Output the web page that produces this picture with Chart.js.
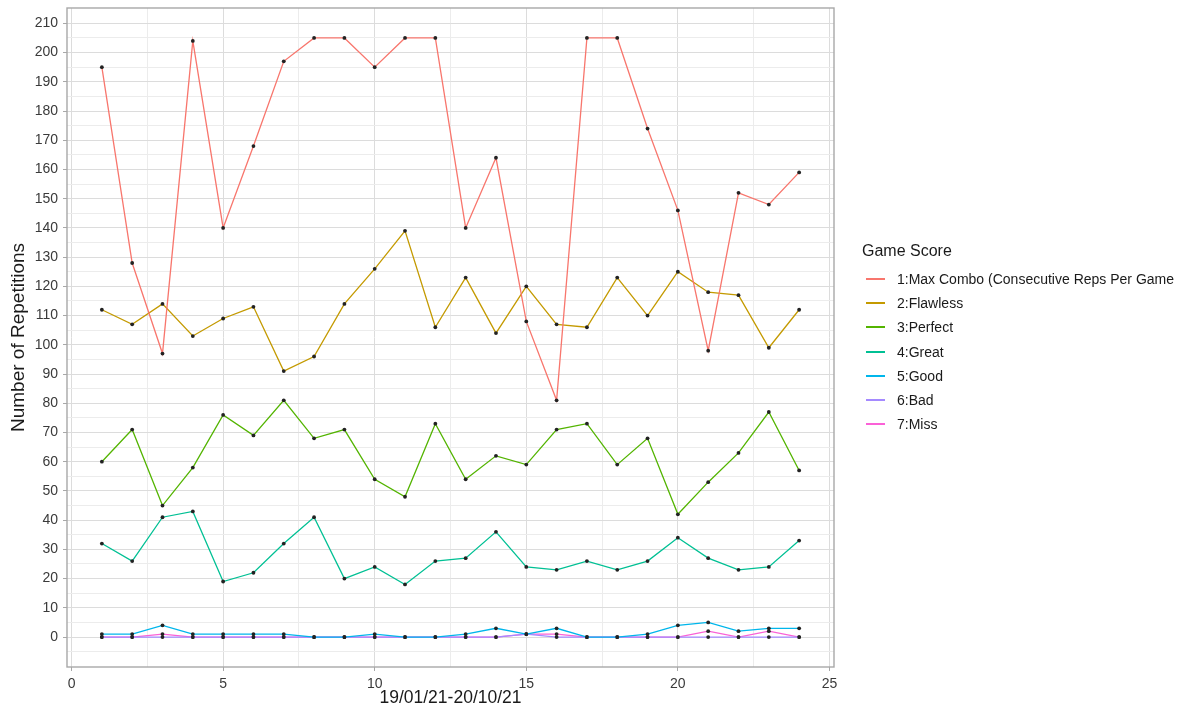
<!DOCTYPE html>
<html>
<head>
<meta charset="utf-8">
<script src="https://cdn.jsdelivr.net/npm/chart.js@4"></script>
<style>
  html, body { margin: 0; padding: 0; background: #ffffff; }
  #wrap { position: relative; width: 1198px; height: 716px; font-family: "Liberation Sans", Arial, sans-serif; }
  #chart { position: absolute; left: 0; top: 0; }
  #legend { position: absolute; left: 862px; top: 240px; color: #1a1a1a; }
  #legend .title { font-size: 16px; height: 22px; line-height: 22px; margin-bottom: 5px; }
  #legend .item { height: 24.2px; display: flex; align-items: center; font-size: 14px; }
  #legend .key { width: 19px; height: 2px; margin-left: 4px; margin-right: 12px; }
</style>
</head>
<body>
<div id="wrap">
  <canvas id="chart" width="1198" height="716"></canvas>
  <div id="legend"></div>
</div>
<script>
// Games played (index 1..24) over the period 19/01/21-20/10/21
const games = [1, 2, 3, 4, 5, 6, 7, 8, 9, 10, 11, 12, 13, 14, 15, 16, 17, 18, 19, 20, 21, 22, 23, 24];

const seriesNames = [
  "1:Max Combo (Consecutive Reps Per Game",
  "2:Flawless",
  "3:Perfect",
  "4:Great",
  "5:Good",
  "6:Bad",
  "7:Miss"
];
const seriesColors = ["#F8766D", "#C49A00", "#53B400", "#00C094", "#00B6EB", "#A58AFF", "#FB61D7"];

const maxCombo = [195, 128, 97, 204, 140, 168, 197, 205, 205, 195, 205, 205, 140, 164, 108, 81, 205, 205, 174, 146, 98, 152, 148, 159];
const flawless = [112, 107, 114, 103, 109, 113, 91, 96, 114, 126, 139, 106, 123, 104, 120, 107, 106, 123, 110, 125, 118, 117, 99, 112];
const perfect  = [60, 71, 45, 58, 76, 69, 81, 68, 71, 54, 48, 73, 54, 62, 59, 71, 73, 59, 68, 42, 53, 63, 77, 57];
const great    = [32, 26, 41, 43, 19, 22, 32, 41, 20, 24, 18, 26, 27, 36, 24, 23, 26, 23, 26, 34, 27, 23, 24, 33];
const good     = [1, 1, 4, 1, 1, 1, 1, 0, 0, 1, 0, 0, 1, 3, 1, 3, 0, 0, 1, 4, 5, 2, 3, 3];
const bad      = [0, 0, 0, 0, 0, 0, 0, 0, 0, 0, 0, 0, 0, 0, 1, 0, 0, 0, 0, 0, 0, 0, 0, 0];
const miss     = [0, 0, 1, 0, 0, 0, 0, 0, 0, 0, 0, 0, 0, 0, 1, 1, 0, 0, 0, 0, 2, 0, 2, 0];

const seriesValues = [maxCombo, flawless, perfect, great, good, bad, miss];

// Axis breaks: majors carry labels, halves are minor grid lines
const xBreaks = [0, 2.5, 5, 7.5, 10, 12.5, 15, 17.5, 20, 22.5, 25];
const yBreaks = [];
for (let v = -5; v <= 210; v += 5) yBreaks.push(v);

const X_MIN = -0.15, X_MAX = 25.15;
const Y_MIN = -10.25, Y_MAX = 215.25;

const datasets = seriesValues.map((vals, i) => ({
  label: seriesNames[i],
  data: games.map((g, k) => ({ x: g, y: vals[k] })),
  borderColor: seriesColors[i],
  backgroundColor: seriesColors[i],
  borderWidth: 1.3,
  pointRadius: 1.9,
  pointBackgroundColor: "#222222",
  pointBorderWidth: 0,
  pointHoverRadius: 1.9,
  tension: 0,
  fill: false
}));

const isMajorX = v => Math.abs(v % 5) < 1e-9;
const isMajorY = v => v >= 0 && Math.abs(v % 10) < 1e-9;

// Panel border round the plotting area
const panelBorder = {
  id: "panelBorder",
  afterDraw(chart) {
    const a = chart.chartArea;
    const ctx = chart.ctx;
    ctx.save();
    ctx.strokeStyle = "#A8A8A8";
    ctx.lineWidth = 1.4;
    ctx.strokeRect(a.left, a.top, a.right - a.left, a.bottom - a.top);
    ctx.restore();
  }
};

new Chart(document.getElementById("chart"), {
  type: "line",
  data: { datasets },
  plugins: [panelBorder],
  options: {
    responsive: false,
    animation: false,
    events: [],
    layout: { padding: { left: 0, right: 364, top: 8, bottom: 0 } },
    plugins: { legend: { display: false }, tooltip: { enabled: false } },
    scales: {
      x: {
        type: "linear",
        min: X_MIN,
        max: X_MAX,
        afterBuildTicks: s => { s.ticks = xBreaks.map(v => ({ value: v })); },
        afterFit: s => { s.height = 49; s.paddingLeft = 0; s.paddingRight = 0; },
        ticks: {
          autoSkip: false,
          maxRotation: 0,
          padding: 5,
          color: "#3a3a3a",
          font: { family: "Liberation Sans", size: 14 },
          callback: v => (isMajorX(v) ? String(v) : "")
        },
        grid: {
          color: ctx => (isMajorX(ctx.tick.value) ? "#DCDCDC" : "#ECECEC"),
          lineWidth: 1,
          tickLength: 4,
          tickColor: ctx => (isMajorX(ctx.tick.value) ? "#A8A8A8" : "rgba(0,0,0,0)")
        },
        border: { display: false },
        title: {
          display: true,
          text: "19/01/21-20/10/21",
          color: "#1a1a1a",
          font: { family: "Liberation Sans", size: 17.5 },
          padding: { top: 0, bottom: 7.5 }
        }
      },
      y: {
        type: "linear",
        min: Y_MIN,
        max: Y_MAX,
        afterBuildTicks: s => { s.ticks = yBreaks.map(v => ({ value: v })); },
        afterFit: s => { s.width = 67; s.paddingTop = 0; s.paddingBottom = 0; },
        ticks: {
          autoSkip: false,
          padding: 5,
          color: "#3a3a3a",
          font: { family: "Liberation Sans", size: 14 },
          callback: v => (isMajorY(v) ? String(v) : "")
        },
        grid: {
          color: ctx => (isMajorY(ctx.tick.value) ? "#DCDCDC" : "#ECECEC"),
          lineWidth: 1,
          tickLength: 4,
          tickColor: ctx => (isMajorY(ctx.tick.value) ? "#A8A8A8" : "rgba(0,0,0,0)")
        },
        border: { display: false },
        title: {
          display: true,
          text: "Number of Repetitions",
          color: "#1a1a1a",
          font: { family: "Liberation Sans", size: 19 },
          padding: { top: 7, bottom: 0 }
        }
      }
    }
  }
});

// Legend built from the same series names and colours
const legend = document.getElementById("legend");
const lt = document.createElement("div");
lt.className = "title";
lt.textContent = "Game Score";
legend.appendChild(lt);
seriesNames.forEach((name, i) => {
  const row = document.createElement("div");
  row.className = "item";
  const key = document.createElement("span");
  key.className = "key";
  key.style.background = seriesColors[i];
  const txt = document.createElement("span");
  txt.textContent = name;
  row.appendChild(key);
  row.appendChild(txt);
  legend.appendChild(row);
});
</script>
</body>
</html>
